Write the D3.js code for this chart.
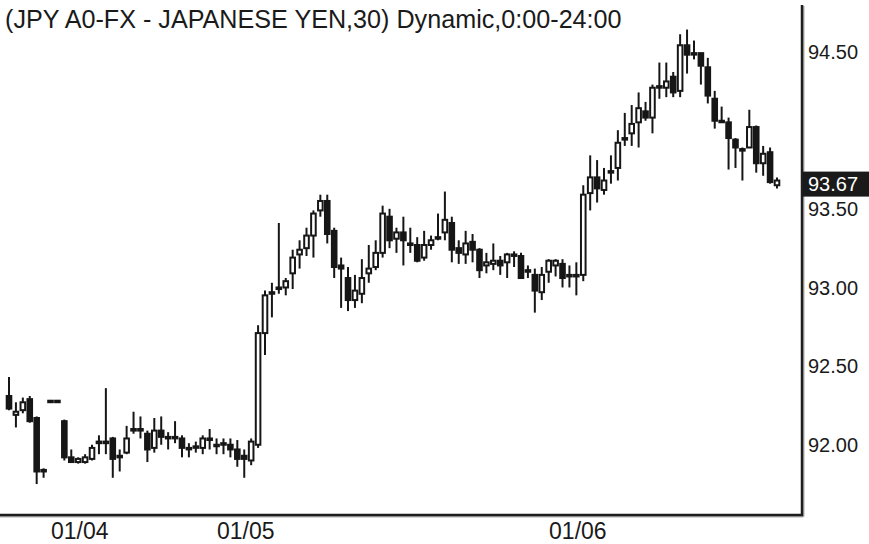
<!DOCTYPE html>
<html lang="en">
<head>
    <meta charset="UTF-8">
    <title>JPY A0-FX 30 min</title>
    <script src="https://d3js.org/d3.v7.min.js"></script>
    <style>
        html, body { margin: 0; padding: 0; background: #fff; }
        #chart { display: block; }
        .ylab { font-family: "Liberation Sans", Arial, sans-serif; font-size: 20px; fill: #1a1a1a; }
        .xlab { font-family: "Liberation Sans Narrow", "Arial Narrow", "Liberation Sans", sans-serif; font-size: 23px; fill: #1a1a1a; }
        .title { font-family: "Liberation Sans", Arial, sans-serif; font-size: 20px; fill: #1a1a1a; }
    </style>
</head>
<body>
    <svg id="chart"></svg>
    <script>
        const width = 869;
        const height = 544;

        // 30-minute bars
        const opens = [92.31, 92.19, 92.22, 92.29, 92.17, 91.83, 92.28, 92.28, 92.15, 91.92,
            91.89, 91.89, 91.91, 92.01, 92.02, 92.04, 91.92, 91.95, 92.09, 92.10,
            92.07, 91.98, 92.09, 92.04, 92.05, 92.04, 91.98, 91.99, 91.98, 92.04,
            92.00, 92.00, 92.00, 91.97, 91.93, 91.90, 92.00, 92.71, 92.97, 92.99,
            93.00, 93.09, 93.21, 93.25, 93.33, 93.49, 93.55, 93.36, 93.14, 93.06,
            92.92, 92.96, 93.09, 93.13, 93.22, 93.45, 93.31, 93.35, 93.28, 93.27,
            93.19, 93.27, 93.31, 93.35, 93.41, 93.25, 93.21, 93.29, 93.24, 93.14,
            93.15, 93.17, 93.16, 93.21, 93.20, 93.11, 93.08, 92.97, 93.10, 93.14,
            93.15, 93.07, 93.08, 93.08, 93.60, 93.70, 93.62, 93.74, 93.76, 93.94,
            93.98, 94.05, 94.12, 94.08, 94.27, 94.27, 94.34, 94.25, 94.54, 94.49,
            94.49, 94.40, 94.20, 94.06, 94.05, 93.94, 93.88, 93.89, 94.02, 93.79,
            93.86, 93.65];
        const highs = [92.43, 92.27, 92.30, 92.31, 92.18, 91.85, 92.28, 92.28, 92.16, 91.97,
            91.92, 91.94, 92.00, 92.06, 92.36, 92.05, 91.97, 92.12, 92.21, 92.18,
            92.09, 92.17, 92.18, 92.08, 92.15, 92.06, 92.01, 92.02, 92.06, 92.10,
            92.04, 92.04, 92.04, 92.03, 91.97, 92.04, 92.76, 92.98, 93.03, 93.41,
            93.06, 93.24, 93.30, 93.38, 93.49, 93.59, 93.59, 93.38, 93.19, 93.13,
            93.08, 93.18, 93.27, 93.30, 93.52, 93.50, 93.38, 93.45, 93.38, 93.32,
            93.36, 93.33, 93.47, 93.61, 93.45, 93.30, 93.36, 93.34, 93.25, 93.22,
            93.28, 93.20, 93.22, 93.23, 93.22, 93.14, 93.12, 93.13, 93.18, 93.18,
            93.18, 93.14, 93.16, 93.65, 93.84, 93.81, 93.76, 93.84, 94.00, 94.11,
            94.16, 94.24, 94.18, 94.29, 94.43, 94.43, 94.37, 94.61, 94.64, 94.57,
            94.49, 94.46, 94.25, 94.15, 94.08, 93.95, 93.89, 94.13, 94.03, 93.90,
            93.89, 93.70];
        const lows = [92.22, 92.11, 92.20, 92.14, 91.75, 91.79, 92.28, 92.28, 91.90, 91.89,
            91.88, 91.88, 91.90, 91.94, 91.94, 91.79, 91.83, 91.94, 92.07, 92.04,
            91.89, 91.95, 92.00, 91.97, 92.01, 91.92, 91.92, 91.95, 91.94, 91.97,
            91.94, 91.94, 91.92, 91.86, 91.79, 91.87, 91.98, 92.57, 92.81, 92.96,
            92.95, 92.99, 93.12, 93.20, 93.19, 93.45, 93.28, 93.06, 92.87, 92.85,
            92.87, 92.90, 93.03, 93.11, 93.19, 93.25, 93.22, 93.14, 93.22, 93.16,
            93.17, 93.24, 93.30, 93.30, 93.16, 93.15, 93.15, 93.16, 93.06, 93.09,
            93.11, 93.08, 93.06, 93.13, 93.06, 93.06, 92.84, 92.92, 93.03, 93.07,
            93.00, 93.00, 92.95, 93.04, 93.49, 93.54, 93.59, 93.66, 93.68, 93.90,
            93.90, 93.89, 94.06, 93.98, 94.20, 94.21, 94.21, 94.21, 94.36, 94.45,
            94.29, 94.17, 94.01, 94.05, 93.75, 93.76, 93.68, 93.89, 93.73, 93.71,
            93.66, 93.63];
        const closes = [92.23, 92.21, 92.27, 92.15, 91.83, 91.84, 92.28, 92.28, 91.92, 91.89,
            91.91, 91.92, 91.98, 92.02, 92.01, 91.91, 91.93, 92.04, 92.10, 92.09,
            91.97, 92.09, 92.05, 92.05, 92.05, 91.98, 91.98, 91.99, 92.04, 92.03,
            92.00, 92.01, 91.97, 91.91, 91.91, 92.02, 92.71, 92.95, 92.96, 93.00,
            93.04, 93.19, 93.24, 93.33, 93.47, 93.55, 93.34, 93.13, 93.12, 92.92,
            92.98, 93.06, 93.12, 93.22, 93.47, 93.30, 93.35, 93.30, 93.27, 93.17,
            93.27, 93.30, 93.32, 93.43, 93.24, 93.22, 93.28, 93.24, 93.11, 93.16,
            93.17, 93.14, 93.21, 93.21, 93.06, 93.10, 92.98, 93.08, 93.17, 93.17,
            93.06, 93.08, 93.07, 93.59, 93.70, 93.63, 93.68, 93.73, 93.92, 93.95,
            94.04, 94.14, 94.08, 94.27, 94.28, 94.31, 94.24, 94.54, 94.48, 94.49,
            94.41, 94.22, 94.06, 94.06, 93.95, 93.89, 93.87, 94.02, 93.79, 93.85,
            93.67, 93.68];

        const dayTickIndex = [10, 34, 82];
        const dayTickLabels = ['01/04', '01/05', '01/06'];
        const priceTicks = [92.00, 92.50, 93.00, 93.50, 94.50];
        const lastPrice = 93.67;
        const titleText = '(JPY A0-FX - JAPANESE YEN,30) Dynamic,0:00-24:00';

        const bars = opens.map((o, i) => ({ i, o, h: highs[i], l: lows[i], c: closes[i] }));

        const plotRight = 802;
        const plotBottom = 515;

        const svg = d3.select('#chart')
            .attr('width', width)
            .attr('height', height)
            .attr('viewBox', `0 0 ${width} ${height}`);

        svg.append('rect').attr('width', width).attr('height', height).attr('fill', '#fff');

        const x = d3.scaleLinear().domain([0, bars.length - 1]).range([9, 777]);
        const y = d3.scaleLinear().domain([91.547, 94.796]).range([516, 5]);

        const ink = '#161616';
        const bodyW = 4.6;

        // wicks
        svg.append('g').selectAll('line')
            .data(bars)
            .join('line')
            .attr('x1', d => x(d.i)).attr('x2', d => x(d.i))
            .attr('y1', d => y(d.h)).attr('y2', d => y(d.l))
            .attr('stroke', ink)
            .attr('stroke-width', 2);

        // bodies
        svg.append('g').selectAll('rect')
            .data(bars)
            .join('rect')
            .attr('x', d => x(d.i) - bodyW / 2)
            .attr('y', d => y(Math.max(d.o, d.c)))
            .attr('width', bodyW)
            .attr('height', d => Math.max(1.5, Math.abs(y(d.o) - y(d.c))))
            .attr('fill', d => (d.c > d.o + 0.015) ? '#fff' : ink)
            .attr('stroke', ink)
            .attr('stroke-width', 2);

        // frame (right and bottom)
        const frame = svg.append('g');
        frame.append('line')
            .attr('x1', plotRight + 1.5).attr('x2', plotRight + 1.5)
            .attr('y1', 6).attr('y2', plotBottom + 1.5)
            .attr('stroke', '#b0b0b0').attr('stroke-width', 2);
        frame.append('line')
            .attr('x1', 0).attr('x2', plotRight + 1.5)
            .attr('y1', plotBottom + 1.5).attr('y2', plotBottom + 1.5)
            .attr('stroke', '#b0b0b0').attr('stroke-width', 2);
        frame.append('path')
            .attr('d', `M${plotRight},5 V${plotBottom} H0`)
            .attr('fill', 'none')
            .attr('stroke', '#1e1e1e')
            .attr('stroke-width', 2.5);

        // y axis labels on the right
        svg.append('g').selectAll('text')
            .data(priceTicks)
            .join('text')
            .attr('class', 'ylab')
            .attr('x', 808)
            .attr('y', d => y(d))
            .attr('dy', '0.36em')
            .text(d => d3.format('.2f')(d));

        // last price tag
        const tagY = y(lastPrice);
        svg.append('rect')
            .attr('x', plotRight + 1).attr('y', tagY - 10.5)
            .attr('width', width - plotRight - 1).attr('height', 25)
            .attr('fill', '#1a1a1a');
        svg.append('text')
            .attr('class', 'ylab')
            .attr('x', 808).attr('y', tagY + 2)
            .attr('dy', '0.36em')
            .style('fill', '#fff')
            .text(d3.format('.2f')(lastPrice));

        // x axis day labels
        svg.append('g').selectAll('text')
            .data(dayTickIndex)
            .join('text')
            .attr('class', 'xlab')
            .attr('x', d => x(d) + 1.5)
            .attr('y', 539)
            .attr('text-anchor', 'middle')
            .text((d, k) => dayTickLabels[k]);

        // title, fitted to the reference width
        const title = svg.append('text')
            .attr('class', 'title')
            .attr('x', 5)
            .attr('y', 28)
            .text(titleText);
        const tw = title.node().getComputedTextLength();
        title.style('font-size', (20 * 617 / tw).toFixed(2) + 'px');
    </script>
</body>
</html>
